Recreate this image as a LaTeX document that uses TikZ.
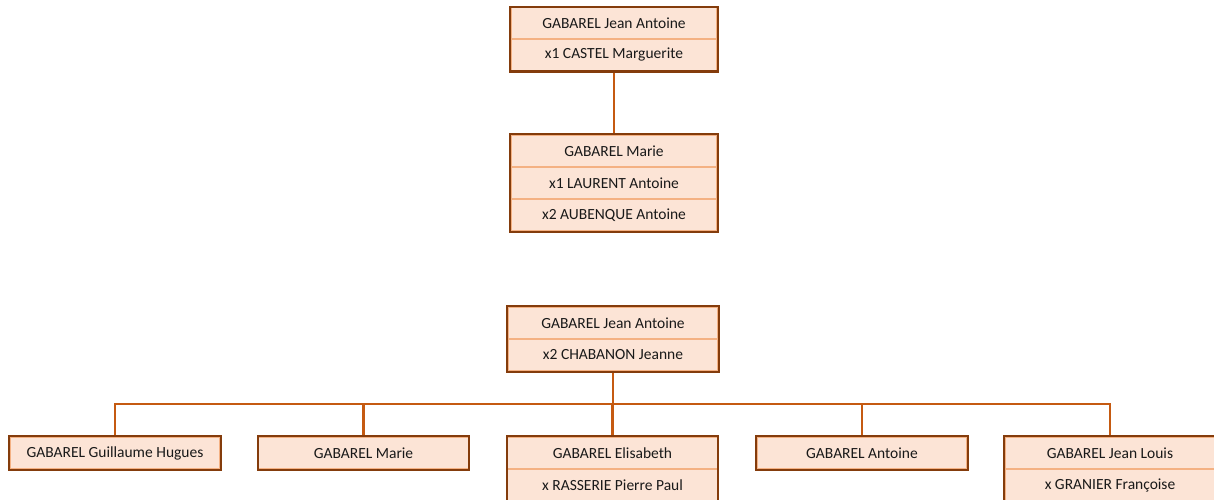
\documentclass[tikz,border=0pt]{standalone}
\usepackage{fontspec}
\setmainfont{Carlito}
\usepackage{tikz}

\definecolor{peach}{HTML}{FCE4D6}
\definecolor{boxline}{HTML}{843C0C}
\definecolor{rowline}{HTML}{F4B183}
\definecolor{linkline}{HTML}{C55A11}

\tikzset{
	cell/.style={rectangle, fill=peach, draw=rowline, line width=1.5pt, inner sep=0pt,
		minimum width=210pt, minimum height=32pt, text=black!90,
		font=\fontsize{15.5}{18}\selectfont},
	frame/.style={draw=boxline, line width=2.4pt},
	link/.style={draw=linkline, line width=2.8pt}
}

\begin{document}
\begin{tikzpicture}[x=1pt, y=-1pt]

	\useasboundingbox (0,0) rectangle (1214,500);
	\clip (0,0) rectangle (1214,500);

	\node[cell, minimum width=206pt, minimum height=31.5pt] (ja1) at (614, 23.5)   {GABAREL Jean Antoine};
	\node[cell, minimum width=206pt, minimum height=31.5pt] (ja2) at (614, 55)     {x1 CASTEL Marguerite};

	\node[cell, minimum width=206pt] (ma1) at (614, 151)   {GABAREL Marie};
	\node[cell, minimum width=206pt] (ma2) at (614, 183)   {x1 LAURENT Antoine};
	\node[cell, minimum width=206pt] (ma3) at (614, 215)   {x2 AUBENQUE Antoine};

	\node[cell] (jb1) at (613, 323)   {GABAREL Jean Antoine};
	\node[cell] (jb2) at (613, 355)   {x2 CHABANON Jeanne};

	\node[cell] (gu) at (115, 453)     {GABAREL Guillaume Hugues};
	\node[cell] (mr) at (363.5, 453)   {GABAREL Marie};
	\node[cell] (el1) at (612.5, 453)  {GABAREL Elisabeth};
	\node[cell] (el2) at (612.5, 485)  {x RASSERIE Pierre Paul};
	\node[cell] (an) at (862, 453)     {GABAREL Antoine};
	\node[cell] (jl1) at (1110, 453)   {GABAREL Jean Louis};
	\node[cell] (jl2) at (1110, 485)   {x GRANIER Françoise};

	\coordinate (bus) at (613, 404);

	\draw[link] (ja2.south) -- (ma1.north);
	\draw[link] (jb2.south) -- (jb2.south |- bus);
	\foreach \c in {gu, mr, el1, an, jl1}
		\draw[link] (jb2.south |- bus) -| (\c.north);

	\draw[frame] (ja1.north west) rectangle (ja2.south east);
	\draw[frame] (ma1.north west) rectangle (ma3.south east);
	\draw[frame] (jb1.north west) rectangle (jb2.south east);
	\draw[frame] (gu.north west) rectangle (gu.south east);
	\draw[frame] (mr.north west) rectangle (mr.south east);
	\draw[frame] (el1.north west) rectangle (el2.south east);
	\draw[frame] (an.north west) rectangle (an.south east);
	\draw[frame] (jl1.north west) rectangle (jl2.south east);

\end{tikzpicture}
\end{document}
